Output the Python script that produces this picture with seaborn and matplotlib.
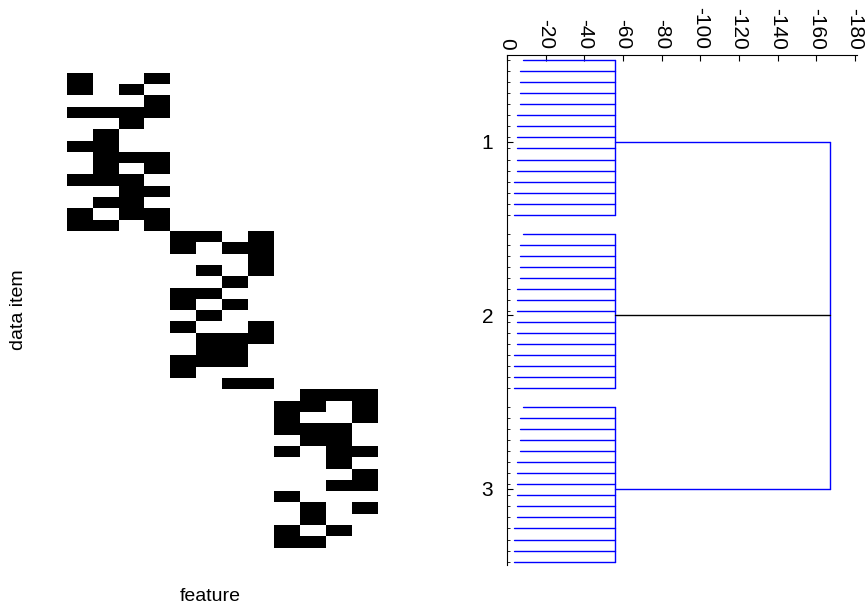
import numpy as np
import pandas as pd
import seaborn as sns
import matplotlib
matplotlib.use("Agg")
import matplotlib.pyplot as plt

sns.set_theme(style="white")
plt.rcParams['font.family'] = ['Liberation Sans', 'DejaVu Sans']
plt.rcParams['axes.unicode_minus'] = False
plt.rcParams['text.color'] = 'black'
plt.rcParams['xtick.color'] = 'black'
plt.rcParams['ytick.color'] = 'black'

# binary data, 3 blocks of 14 items x 4 features (block diagonal)
blok1 = [[1,0,0,1],[1,0,1,0],[0,0,0,1],[1,1,1,1],[0,0,1,0],[0,1,0,0],[1,1,0,0],
         [0,1,1,1],[0,1,0,1],[1,1,1,0],[0,0,1,1],[0,1,1,0],[1,0,1,1],[1,1,0,1]]
blok2 = [[1,1,0,1],[1,0,1,1],[0,0,0,1],[0,1,0,1],[0,0,1,0],[1,1,0,0],[1,0,1,0],
         [0,1,0,0],[1,0,0,1],[0,1,1,1],[0,1,1,0],[1,1,1,0],[1,0,0,0],[0,0,1,1]]
blok3 = [[0,1,1,1],[1,1,0,1],[1,0,0,1],[1,1,1,0],[0,1,1,0],[1,0,1,1],[0,0,1,0],
         [0,0,0,1],[0,0,1,1],[1,0,0,0],[0,1,0,1],[0,1,0,0],[1,0,1,0],[1,1,0,0]]

# dendrogram: leaf line start per leaf, cluster join level, top join level
start_liscia = [-8.4, -6.8, -6.8, -6.8, -6.8, -5.2, -5.2, -5.2, -5.2, -5.2, -5.2,
                -3.6, -3.6, -3.6, -3.6]
klastry = [1, 2, 3]
laczenie_klastra = [-56, -56, -56]
laczenie_gora = -167
xticki = [0, -20, -40, -60, -80, -100, -120, -140, -160, -180]

bloki = [blok1, blok2, blok3]
n_rows = sum(len(b) for b in bloki)
macierz = np.zeros((n_rows, 12), dtype=int)
r = 0
for k, b in enumerate(bloki):
    b = np.array(b)
    macierz[r:r + len(b), 4 * k:4 * k + 4] = b
    r += len(b)
dane = pd.DataFrame(macierz)

f = plt.figure(figsize=(8.67, 6.09), dpi=100)

ax1 = f.add_axes([0.0769, 0.1007, 0.359, 0.780])
sns.heatmap(dane, cmap=['white', 'black'], cbar=False, ax=ax1,
            xticklabels=False, yticklabels=False, vmin=0, vmax=1)
ax1.axis('off')

f.text(0.021, 0.491, 'data item', rotation=90, ha='center', va='center', fontsize=14)
f.text(0.242, 0.020, 'feature', ha='center', va='center', fontsize=14)

# dendrogram
ax2 = f.add_axes([0.5848, 0.0722, 0.4037, 0.8374])
przes = np.linspace(-0.47, 0.42, len(start_liscia))
for c, h in zip(klastry, laczenie_klastra):
    for s, o in zip(start_liscia, przes):
        ax2.plot([s, h], [c + o, c + o], color='#0000ff', lw=1)
    ax2.plot([h, h], [c + przes[0], c + przes[-1]], color='#0000ff', lw=1)
    kol = 'black' if c == 2 else '#0000ff'
    ax2.plot([h, laczenie_gora], [c, c], color=kol, lw=1, zorder=3 if c == 2 else 2)
ax2.plot([laczenie_gora, laczenie_gora], [klastry[0], klastry[-1]], color='#0000ff', lw=1)

ax2.set_xlim(0, -181)
ax2.set_ylim(3.44, 0.50)
ax2.xaxis.tick_top()
ax2.set_xticks(xticki)
ax2.set_xticklabels([str(v) for v in xticki])
ax2.set_yticks(klastry)
ax2.set_yticklabels([str(c) for c in klastry])
ax2.set_yticks([c + o for c in klastry for o in przes], minor=True)
ax2.tick_params(axis='x', which='major', direction='in', length=4, width=0.8,
                labelsize=15, labelrotation=-90, pad=4, top=True, bottom=False)
ax2.tick_params(axis='y', which='major', direction='in', length=4, width=0.8,
                labelsize=15, pad=10, left=True)
ax2.tick_params(axis='y', which='minor', direction='in', length=2.5, width=0.6, left=True)
for sp in ['right', 'bottom']:
    ax2.spines[sp].set_visible(False)
for sp in ['top', 'left']:
    ax2.spines[sp].set_color('black')
    ax2.spines[sp].set_linewidth(0.8)
ax2.grid(False)

f.savefig('out.png', dpi=100)
